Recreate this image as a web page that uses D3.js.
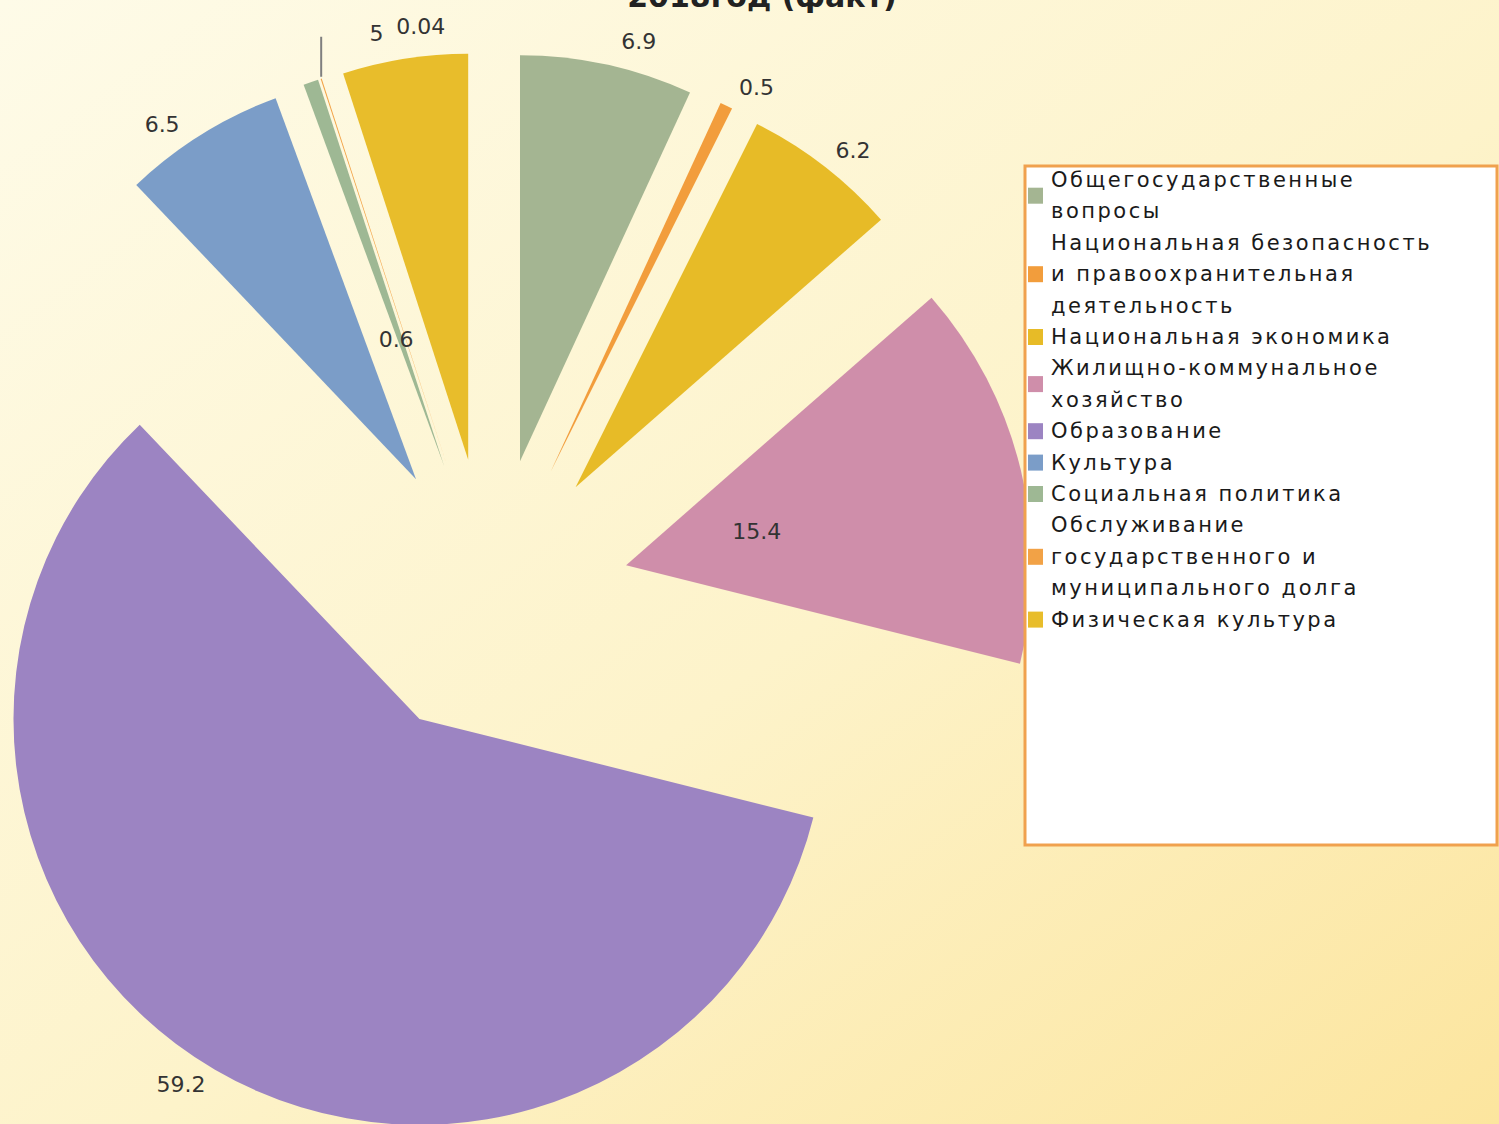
<!DOCTYPE html>
<html>
<head>
<meta charset="utf-8">
<script src="https://cdn.jsdelivr.net/npm/d3@7/dist/d3.min.js"></script>
<style>
html, body { margin: 0; padding: 0; overflow: hidden; background: #fdf6d2; }
svg { display: block; }
</style>
</head>
<body>
<svg id="chart" width="1499" height="1124"></svg>
<script>
// data
var title = "2018год (факт)";
var categories = [
  "Общегосударственные вопросы",
  "Национальная безопасность и правоохранительная деятельность",
  "Национальная экономика",
  "Жилищно-коммунальное хозяйство",
  "Образование",
  "Культура",
  "Социальная политика",
  "Обслуживание государственного и муниципального долга",
  "Физическая культура"
];
var values = [6.9, 0.5, 6.2, 15.4, 59.2, 6.5, 0.6, 0.04, 5];
var colors = ["#a4b592", "#f29d3c", "#e7bb27", "#cf8eaa", "#9c84c2",
              "#7b9dc8", "#9eb894", "#f2a246", "#e8bd2b"];

var width = 1499,
    height = 1124,
    cx = 490,
    cy = 598,
    radius = 406,
    explode = 140;

// where each value label sits: outside the slice or inside it, plus a small
// angular nudge (degrees) the way the original chart shifted them
var labelInside = [false, false, false, true, false, false, true, false, false];
var labelNudge = [2.6, 1.9, 1.4, -0.4, 2.2, -2.8, -0.8, 11.1, -2.4];

var svg = d3.select("#chart");

var defs = svg.append("defs");
var grad = defs.append("linearGradient")
    .attr("id", "bg")
    .attr("x1", "0%").attr("y1", "0%")
    .attr("x2", "100%").attr("y2", "100%");
grad.append("stop").attr("offset", "0%").attr("stop-color", "#fefbe8");
grad.append("stop").attr("offset", "55%").attr("stop-color", "#fdf3ca");
grad.append("stop").attr("offset", "100%").attr("stop-color", "#fce59e");

svg.append("rect")
    .attr("width", width)
    .attr("height", height)
    .attr("fill", "url(#bg)");

var pie = d3.pie().sort(null).value(function(d) { return d; });
var arcs = pie(values);

var arc = d3.arc().innerRadius(0).outerRadius(radius);

function dir(a) { return [Math.sin(a), -Math.cos(a)]; }
function mid(d) { return (d.startAngle + d.endAngle) / 2; }

svg.append("g")
  .selectAll("path")
  .data(arcs)
  .enter().append("path")
    .attr("d", arc)
    .attr("fill", function(d, i) { return colors[i]; })
    .attr("transform", function(d) {
      var v = dir(mid(d));
      return "translate(" + (cx + v[0] * explode) + "," + (cy + v[1] * explode) + ")";
    });

// short leader line from the tip of the tiny 0.04 slice
var tip = dir(mid(arcs[7])),
    tipX = cx + tip[0] * (explode + radius),
    tipY = cy + tip[1] * (explode + radius);
svg.append("line")
    .attr("x1", tipX)
    .attr("y1", tipY - 2)
    .attr("x2", tipX)
    .attr("y2", tipY - 42)
    .attr("stroke", "#7f7f7f")
    .attr("stroke-width", 2);

svg.append("g")
  .selectAll("text")
  .data(arcs)
  .enter().append("text")
    .attr("transform", function(d, i) {
      var dist = labelInside[i] ? explode + 135 : explode + radius + 30;
      var v = dir(mid(d) + labelNudge[i] * Math.PI / 180);
      return "translate(" + (cx + v[0] * dist) + "," + (cy + v[1] * dist) + ")";
    })
    .attr("text-anchor", "middle")
    .attr("dominant-baseline", "central")
    .style("font-family", "'DejaVu Sans', sans-serif")
    .style("font-size", "22px")
    .style("fill", "#333")
    .text(function(d) { return String(d.data); });

// title, mostly cut off by the top edge as in the original
svg.append("text")
    .attr("x", 762)
    .attr("y", 7)
    .attr("text-anchor", "middle")
    .style("font-family", "'DejaVu Sans', sans-serif")
    .style("font-size", "30px")
    .style("font-weight", "bold")
    .style("fill", "#222")
    .text(title);

// legend
function wrap(s, maxChars) {
  var words = s.split(" "), lines = [], line = "";
  words.forEach(function(w) {
    var t = line ? line + " " + w : w;
    if (t.length > maxChars && line) { lines.push(line); line = w; }
    else line = t;
  });
  lines.push(line);
  return lines;
}

var legendX = 1025, legendY = 166, legendW = 472, legendH = 679,
    lineH = 31.4, firstLine = 180;

svg.append("rect")
    .attr("x", legendX)
    .attr("y", legendY)
    .attr("width", legendW)
    .attr("height", legendH)
    .attr("fill", "#fff")
    .attr("stroke", "#f0a14e")
    .attr("stroke-width", 3);

var legend = svg.append("g");
var row = 0;
categories.forEach(function(c, i) {
  var lines = wrap(c, 26);
  var yMid = firstLine + (row + (lines.length - 1) / 2) * lineH;
  legend.append("rect")
      .attr("x", 1028)
      .attr("y", yMid - 8)
      .attr("width", 15)
      .attr("height", 16)
      .attr("fill", colors[i]);
  lines.forEach(function(l) {
    legend.append("text")
        .attr("x", 1051)
        .attr("y", firstLine + row * lineH)
        .attr("dominant-baseline", "central")
        .style("font-family", "'DejaVu Sans', sans-serif")
        .style("font-size", "21px")
        .style("letter-spacing", "2.5px")
        .style("fill", "#1a1a1a")
        .text(l);
    row++;
  });
});
</script>
</body>
</html>
